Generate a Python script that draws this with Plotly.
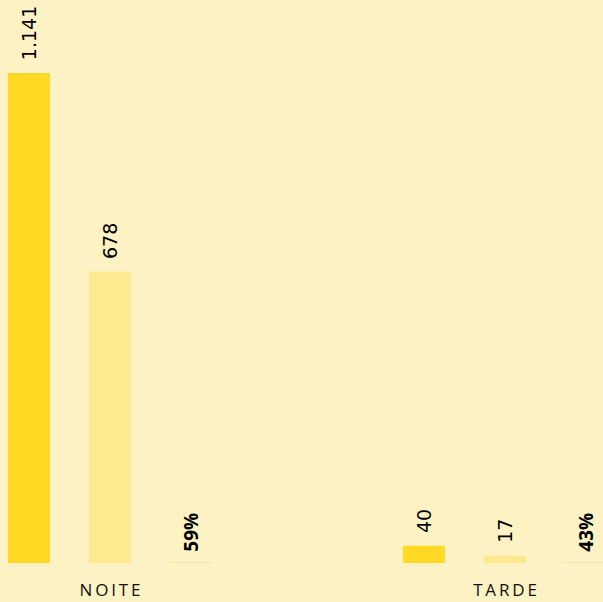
import plotly.graph_objects as go

categories = ["NOITE", "TARDE"]
tick_labels = ["N\u2009O\u2009I\u2009T\u2009E", "T\u2009A\u2009R\u2009D\u2009E"]
series_a = [1141, 40]
series_b = [678, 17]
ratio = [0.59, 0.43]

BG = "#FDF2C3"
C_A = "#FFD923"
C_B = "#FDE98F"
C_R = "#F8E0A2"

num_font = dict(family="DejaVu Sans", size=19, color="#000000")
pct_font = dict(family="Open Sans", size=19, color="#000000", weight="bold")
PAD = "\u00a0\u2009"

fig = go.Figure()
fig.add_trace(go.Bar(x=categories, y=series_a, marker=dict(color=C_A, line=dict(width=0)),
                     texttemplate=PAD + "%{y:,}", textposition="outside", textangle=-90,
                     textfont=num_font, constraintext="none", cliponaxis=False))
fig.add_trace(go.Bar(x=categories, y=series_b, marker=dict(color=C_B, line=dict(width=0)),
                     texttemplate=PAD + "%{y:,}", textposition="outside", textangle=-90,
                     textfont=num_font, constraintext="none", cliponaxis=False))
fig.add_trace(go.Bar(x=categories, y=ratio, marker=dict(color=C_R, line=dict(width=1, color=C_R)),
                     texttemplate=PAD + "%{y:.0%}", textposition="outside", textangle=-90,
                     textfont=pct_font, constraintext="none", cliponaxis=False))

fig.update_layout(
    width=603, height=602,
    margin=dict(l=0, r=0, t=0, b=39),
    paper_bgcolor=BG, plot_bgcolor=BG,
    barmode="group", bargap=0.3848, bargroupgap=0.4815,
    showlegend=False,
    separators=",.",
    xaxis=dict(range=[-0.27848, 1.24810], tickvals=categories, ticktext=tick_labels,
               showgrid=False, zeroline=False, showline=False, ticks="",
               ticklabelstandoff=15,
               tickfont=dict(family="Open Sans", size=17, color="#111111")),
    yaxis=dict(range=[0, 1311], visible=False, showgrid=False, zeroline=False),
)

fig.write_html(
    "out.html",
    config={"displayModeBar": False},
    post_script="document.body.style.margin='0';document.body.style.padding='0';"
                "document.body.style.background='" + BG + "';",
)
